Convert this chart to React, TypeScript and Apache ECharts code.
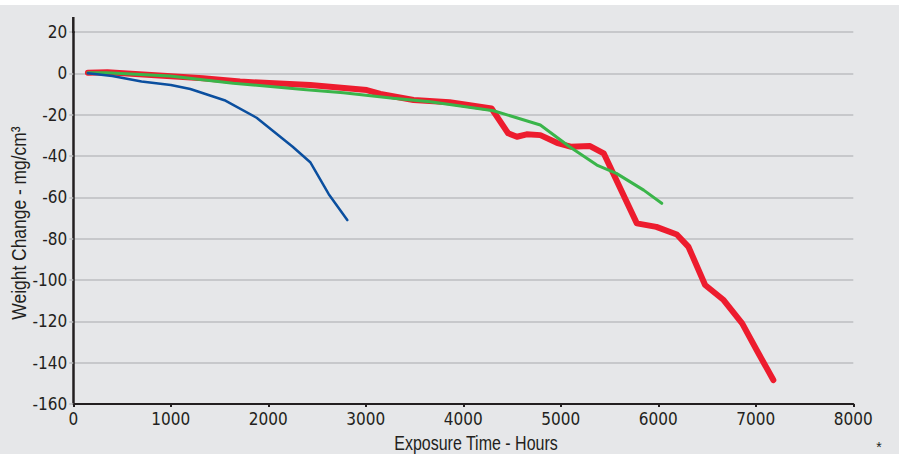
import React, { useEffect, useRef } from "react";
import * as echarts from "echarts";

const blueHours = [150, 400, 700, 850, 1000, 1200, 1550, 1880, 2250, 2430, 2620, 2810];
const blueWeight = [0, -1.3, -4, -4.8, -5.6, -7.6, -13, -21.5, -35.5, -43, -58.5, -71];

const greenHours = [150, 340, 990, 1640, 2360, 2770, 3280, 3660, 3970, 4310, 4790, 5090, 5370, 5570, 5850, 6035];
const greenWeight = [0.3, 0.3, -1.3, -4.8, -7.8, -9.4, -12.1, -13.7, -15.8, -18.1, -25, -35.5, -44.4, -48.4, -56.5, -62.9];

const redHours = [150, 350, 1330, 1710, 2430, 3010, 3150, 3490, 3860, 4290, 4460, 4550, 4650, 4790, 4960, 5100, 5300, 5440, 5780, 5980, 6190, 6310, 6480, 6670, 6860, 7010, 7180];
const redWeight = [0.3, 0.5, -2.4, -4, -5.7, -8.1, -10, -12.9, -14, -17, -29, -30.7, -29.5, -29.9, -33.6, -35.5, -35.2, -38.7, -72.6, -74.3, -78, -84, -102.4, -109.7, -121, -134, -148.4];

const xTitle = "Exposure Time - Hours";
const yTitle = "Weight Change - mg/cm³";
const footnote = "*";

const zip = (a: number[], b: number[]) => a.map((v, i) => [v, b[i]]);

const LABEL_FONT = "'DejaVu Sans Condensed', 'Liberation Sans Narrow', sans-serif";
const TITLE_FONT = "'Liberation Sans', Arial, sans-serif";
const TEXT = "#231f20";

export default function App() {
  const ref = useRef<HTMLDivElement>(null);
  useEffect(() => {
    if (!ref.current) return;
    const chart = echarts.init(ref.current, undefined, { renderer: "svg" });
    chart.setOption({
      animation: false,
      backgroundColor: "#ffffff",
      grid: { left: 73.3, right: 46.7, top: 32, bottom: 50, containLabel: false },
      graphic: [
        { type: "rect", z: -10, silent: true, shape: { x: 0, y: 5, width: 899, height: 449 }, style: { fill: "#e6e7e9" } },
        { type: "line", z: 10, shape: { x1: 73.3, y1: 17, x2: 73.3, y2: 33 }, style: { stroke: TEXT, lineWidth: 2.5 } },
        { type: "text", x: 476, y: 443.5, scaleX: 0.82, style: { text: xTitle, font: `19.5px ${TITLE_FONT}`, fill: TEXT, align: "center", verticalAlign: "middle" } },
        { type: "text", x: 18.5, y: 223, rotation: Math.PI / 2, scaleX: 0.85, style: { text: yTitle, font: `20.5px ${TITLE_FONT}`, fill: TEXT, align: "center", verticalAlign: "middle" } },
        { type: "text", x: 879, y: 447, style: { text: footnote, font: `14px ${TITLE_FONT}`, fill: TEXT, align: "center", verticalAlign: "middle" } },
      ],
      xAxis: {
        type: "value",
        min: 0,
        max: 8000,
        interval: 1000,
        axisLine: { show: true, onZero: false, lineStyle: { color: TEXT, width: 2 } },
        axisTick: { show: true, length: 3, inside: false, lineStyle: { color: TEXT, width: 2 } },
        axisLabel: { color: TEXT, fontSize: 17, fontFamily: LABEL_FONT, margin: 6, formatter: (v: number) => String(v) },
        splitLine: { show: false },
      },
      yAxis: {
        type: "value",
        min: -160,
        max: 20,
        interval: 20,
        axisLine: { show: true, onZero: false, lineStyle: { color: TEXT, width: 2.5 } },
        axisTick: { show: true, length: 4, inside: false, lineStyle: { color: "#bdbec0", width: 1.5 } },
        axisLabel: { color: TEXT, fontSize: 17, fontFamily: LABEL_FONT, margin: 6, formatter: (v: number) => String(v) },
        splitLine: { show: true, lineStyle: { color: "#bdbec0", width: 1.5 } },
      },
      series: [
        {
          type: "line",
          data: zip(redHours, redWeight),
          showSymbol: false,
          symbol: "none",
          z: 2,
          lineStyle: { color: "#ed1c2e", width: 6, cap: "round", join: "round" },
        },
        {
          type: "line",
          data: zip(greenHours, greenWeight),
          showSymbol: false,
          symbol: "none",
          z: 3,
          lineStyle: { color: "#3ab54a", width: 3, cap: "round", join: "round" },
        },
        {
          type: "line",
          data: zip(blueHours, blueWeight),
          showSymbol: false,
          symbol: "none",
          z: 4,
          lineStyle: { color: "#0b4f9f", width: 2.5, cap: "round", join: "round" },
        },
      ],
    });
    return () => chart.dispose();
  }, []);
  return <div ref={ref} style={{ position: "fixed", left: 0, top: 0, width: 900, height: 454 }} />;
}
